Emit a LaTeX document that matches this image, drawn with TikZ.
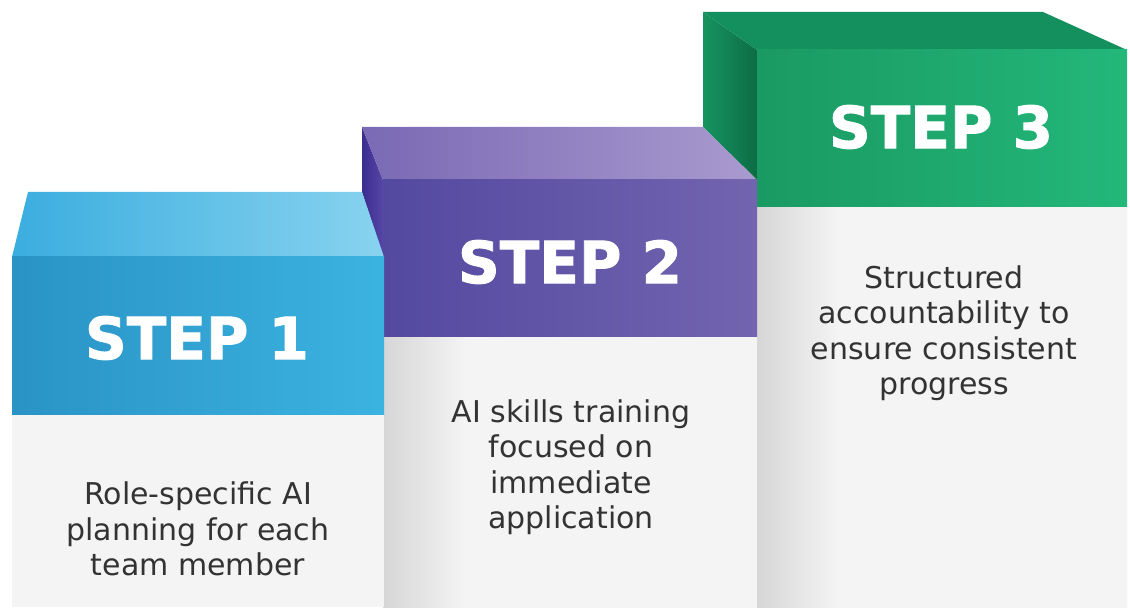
\documentclass[tikz,border=0pt]{standalone}
\usepackage{fontspec}
\setmainfont{DejaVu Sans}
\newfontfamily\heavyfont{DejaVu Sans Bold}[FakeBold=1.6]
\usepackage{tikz}
\usetikzlibrary{positioning}
\definecolor{colorOneTopL}{HTML}{3AADDF}
\definecolor{colorOneTopR}{HTML}{88D3EF}
\definecolor{colorOneFrontL}{HTML}{2A93C6}
\definecolor{colorOneFrontM}{HTML}{22A4D6}
\definecolor{colorOneFrontR}{HTML}{3BB3E0}
\definecolor{colorTwoTopL}{HTML}{7A69B4}
\definecolor{colorTwoTopR}{HTML}{A99ACF}
\definecolor{colorTwoSideL}{HTML}{3B2D8E}
\definecolor{colorTwoSideR}{HTML}{5646A6}
\definecolor{colorTwoFrontL}{HTML}{5349A0}
\definecolor{colorTwoFrontR}{HTML}{7264AF}
\definecolor{colorThreeTop}{HTML}{13905D}
\definecolor{colorThreeSideL}{HTML}{169460}
\definecolor{colorThreeSideR}{HTML}{0D6C44}
\definecolor{colorThreeFrontL}{HTML}{1A9A63}
\definecolor{colorThreeFrontR}{HTML}{23B77A}
\definecolor{colorBase}{HTML}{F4F4F4}
\definecolor{colorShadow}{HTML}{D6D6D6}
\definecolor{colorText}{HTML}{333333}
\pgfdeclarehorizontalshading{baseshade}{100bp}{color(0bp)=(colorShadow); color(25bp)=(colorShadow); color(36bp)=(colorBase); color(100bp)=(colorBase)}
\tikzset{steplabel/.style={text=white, font=\heavyfont\fontsize{58}{58}\selectfont, inner sep=0pt},
         stepdesc/.style={text=colorText, align=center, font=\fontsize{30}{35.5}\selectfont, inner sep=0pt}}

\begin{document}
\begin{tikzpicture}[x=1pt, y=-1pt]
\useasboundingbox (0,0) rectangle (1130,609);
% step 3
\shade[left color=colorThreeSideL, right color=colorThreeSideR] (703,12) -- (757,50) -- (757,180) -- (703,127) -- cycle;
\fill[colorThreeTop] (703,12) -- (1043,12) -- (1127,50) -- (757,50) -- cycle;
\shade[left color=colorThreeFrontL, right color=colorThreeFrontR] (757,50) rectangle (1127,208);
\shade[shading=baseshade] (757,208) rectangle (1127,607);
% step 2
\shade[left color=colorTwoSideL, right color=colorTwoSideR] (362,127) -- (383,180) -- (383,257) -- (362,192) -- cycle;
\shade[left color=colorTwoTopL, right color=colorTwoTopR] (362,127) -- (703,127) -- (757,180) -- (383,180) -- cycle;
\shade[left color=colorTwoFrontL, right color=colorTwoFrontR] (383,180) rectangle (757,338);
\shade[shading=baseshade] (383,338) rectangle (757,607);
% step 1
\shade[left color=colorOneTopL, right color=colorOneTopR] (28,192) -- (362,192) -- (384,257) -- (12,257) -- cycle;
\shade[left color=colorOneFrontL, middle color=colorOneFrontM, right color=colorOneFrontR] (12,257) rectangle (384,415);
\fill[colorBase] (12,415) rectangle (384,607);

\node[steplabel] (s1) at (197,338) {STEP 1};
\node[steplabel] (s2) at (570,262) {STEP 2};
\node[steplabel] (s3) at (941,127) {STEP 3};

\node[stepdesc] (d1) at (198,529) {Role-specific AI\\planning for each\\team member};
\node[stepdesc] (d2) at (571,467) {AI skills training\\focused on\\immediate\\application};
\node[stepdesc] (d3) at (944,333) {Structured\\accountability to\\ensure consistent\\progress};
\end{tikzpicture}
\end{document}
